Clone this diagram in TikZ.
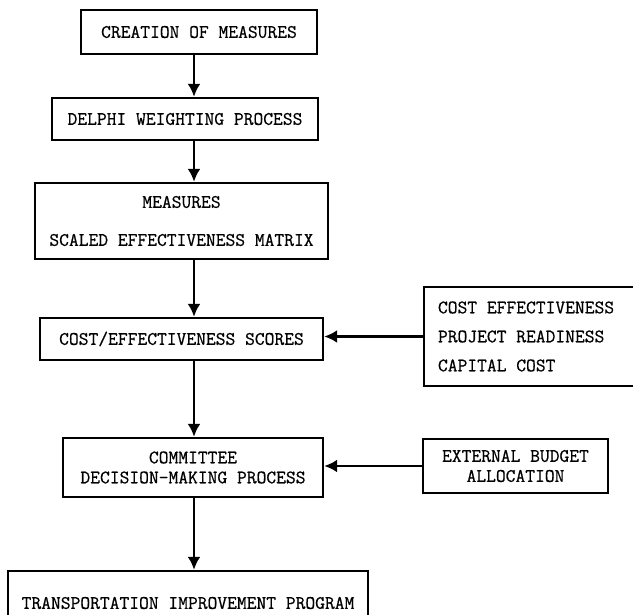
\documentclass[tikz,border=0pt]{standalone}
\usepackage{fontspec}
\newfontfamily\typer{Latin Modern Mono}[FakeBold=0.6]
\usetikzlibrary{arrows.meta, positioning}

\begin{document}
\begin{tikzpicture}[x=1pt, y=-1pt, line width=2.4pt,
  every node/.style={rectangle, draw, inner sep=0pt, align=center,
    font=\fontsize{19}{22}\selectfont\typer},
  arr/.style={-{Latex[length=13pt,width=13pt]}}]
  \useasboundingbox (0,0) rectangle (633,615);
  \coordinate (spine) at (194,0);
  \node (create)  [minimum width=236, minimum height=44] at (199,32)  {CREATION OF MEASURES};
  \node (delphi)  [minimum width=266, minimum height=42] at (185,119) {DELPHI WEIGHTING PROCESS};
  \node (matrix)  [minimum width=293, minimum height=76] at (181.5,221)
    {MEASURES\\[16pt]SCALED EFFECTIVENESS MATRIX};
  \node (scores)  [minimum width=283, minimum height=42] at (181.5,339) {COST/EFFECTIVENESS SCORES};
  \node (factors) [text width=186, inner xsep=14, align=left, minimum height=99] at (531,336.5)
    {\spaceskip=0pt\relax COST EFFECTIVENESS\\[7pt]PROJECT READINESS\\[7pt]CAPITAL COST};
  \node (commit)  [minimum width=260, minimum height=59] at (193,467.5)
    {COMMITTEE\\[-2pt]DECISION-MAKING PROCESS};
  \node (budget)  [minimum width=185, minimum height=54] at (515.5,466)
    {EXTERNAL BUDGET\\[-2pt]ALLOCATION};
  \node (tip)     [minimum width=360, minimum height=64] at (188,603) {TRANSPORTATION IMPROVEMENT PROGRAM};
  \foreach \a/\b in {create/delphi,delphi/matrix,matrix/scores,
                     scores/commit,commit/tip}
    \draw[arr] (\a.south -| spine) -- (\b.north -| spine);
  \draw[arr] (factors.west) -- (factors.west -| scores.east);
  \draw[arr] (budget.west) -- (budget.west -| commit.east);
\end{tikzpicture}
\end{document}
